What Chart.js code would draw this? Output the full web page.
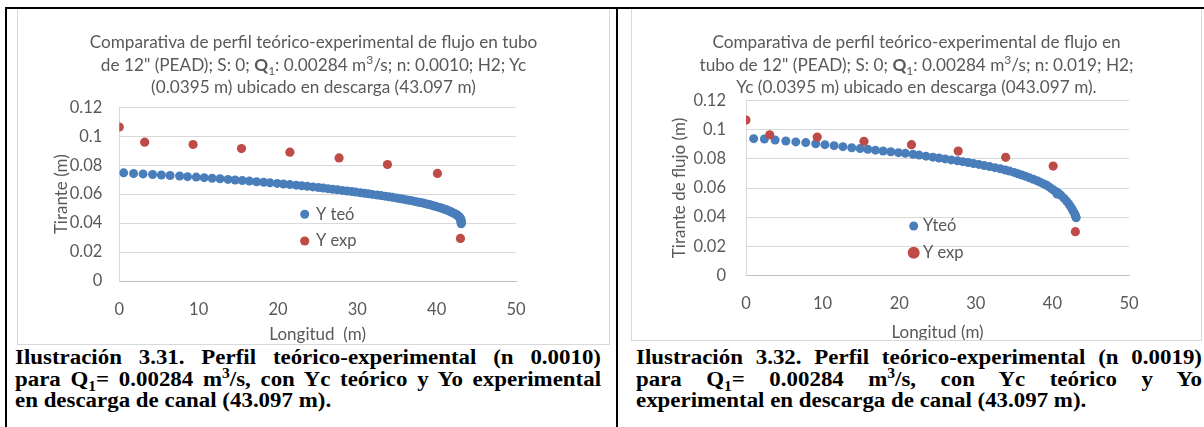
<!DOCTYPE html>
<html>
<head>
<meta charset="utf-8">
<script src="https://cdn.jsdelivr.net/npm/chart.js@4.4.1/dist/chart.umd.min.js"></script>
<style>
html,body{margin:0;padding:0;background:#fff;}
body{width:1204px;height:427px;overflow:hidden;position:relative;}
.rule{position:absolute;background:#000;}
.box{position:absolute;border:1px solid #d9d9d9;box-sizing:border-box;background:#fff;}
.box canvas{position:absolute;left:0;top:0;}
.ctitle{position:absolute;left:0;right:0;text-align:center;font-family:Lato,sans-serif;font-size:17.2px;line-height:22.5px;color:#595959;white-space:nowrap;z-index:2;}
.ctitle sub,.ctitle sup{font-size:0.7em;line-height:0;}
.cap{position:absolute;font-family:"Liberation Serif",serif;font-weight:bold;font-size:20px;line-height:21.5px;color:#000;transform:scaleX(1.145);transform-origin:0 0;}
.cap div{white-space:normal;}
.cap .j{text-align:justify;text-align-last:justify;}
.cap sub,.cap sup{font-size:0.68em;line-height:0;}
</style>
</head>
<body>
<div class="box" style="left:17px;top:8px;width:593px;height:337px;">
  <canvas id="c1" width="591" height="335" style="width:591px;height:335px"></canvas>
  <div class="ctitle" style="top:22px;">Comparativa de perfil teórico-experimental de flujo en tubo<br>de 12" (PEAD); S: 0; <b>Q</b><sub>1</sub>: 0.00284 m<sup>3</sup>/s; n: 0.0010; H2; Yc<br>(0.0395 m) ubicado en descarga (43.097 m)</div>
</div>
<div class="box" style="left:631px;top:8px;width:571px;height:333px;">
  <canvas id="c2" width="569" height="331" style="width:569px;height:331px"></canvas>
  <div class="ctitle" style="top:22px;">Comparativa de perfil teórico-experimental de flujo en<br>tubo de 12" (PEAD); S: 0; <b>Q</b><sub>1</sub>: 0.00284 m<sup>3</sup>/s; n: 0.019; H2;<br>Yc (0.0395 m) ubicado en descarga (043.097 m).</div>
</div>
<div class="cap" style="left:15px;top:347px;width:511.8px;">
  <div class="j">Ilustración 3.31. Perfil teórico-experimental (n 0.0010)</div>
  <div class="j">para Q<sub>1</sub>= 0.00284 m<sup>3</sup>/s, con Yc teórico y Yo experimental</div>
  <div>en descarga de canal (43.097 m).</div>
</div>
<div class="cap" style="left:636px;top:347px;width:494.3px;">
  <div class="j">Ilustración 3.32. Perfil teórico-experimental (n 0.0019)</div>
  <div class="j">para Q<sub>1</sub>= 0.00284 m<sup>3</sup>/s, con Yc teórico y Yo</div>
  <div>experimental en descarga de canal (43.097 m).</div>
</div>
<div class="rule" style="left:5px;top:7px;width:1199px;height:2px;"></div>
<div class="rule" style="left:5px;top:7px;width:2px;height:420px;"></div>
<div class="rule" style="left:616px;top:7px;width:2px;height:420px;"></div>

<script>
// ---------- data ----------
const xTickValues = [0, 10, 20, 30, 40, 50];
const xTickLabels = ['0', '10', '20', '30', '40', '50'];
const yTickValues = [0, 0.02, 0.04, 0.06, 0.08, 0.1, 0.12];
const yTickLabels = ['0', '0.02', '0.04', '0.06', '0.08', '0.1', '0.12'];

const seriesNames1 = ['Y teó', 'Y exp'];
const seriesNames2 = ['Yteó', 'Y exp'];

// Chart 1 (n 0.0010) theoretical profile
const teoX1 = [0.55, 1.8, 3.0, 4.2, 5.3, 6.4, 7.6, 8.6, 9.7, 10.7,
  11.7, 12.7, 13.7, 14.6, 15.5, 16.4, 17.3, 18.2, 19.0, 19.9,
  20.7, 21.5, 22.3, 23.0, 23.7, 24.4, 25.1, 25.7, 26.3, 26.9,
  27.5, 28.1, 28.7, 29.3, 29.8, 30.4, 30.9, 31.4, 31.9, 32.5,
  33.0, 33.5, 34.0, 34.45, 34.9, 35.3, 35.7, 36.1, 36.5, 36.9,
  37.25, 37.6, 37.95, 38.3, 38.6, 38.9, 39.2, 39.45, 39.7, 39.95,
  40.2, 40.45, 40.7, 40.9, 41.1, 41.3, 41.5, 41.65, 41.8, 41.95,
  42.1, 42.25, 42.4, 42.5, 42.6, 42.7, 42.78, 42.85, 42.91, 42.96,
  43.0, 43.03, 43.05, 43.07, 43.08, 43.09, 43.095, 43.097, 43.097];
const teoY1 = [0.0747, 0.0743, 0.0740, 0.0736, 0.0732, 0.0729, 0.0725, 0.0721, 0.0718, 0.0714,
  0.0710, 0.0706, 0.0702, 0.0698, 0.0694, 0.0690, 0.0686, 0.0682, 0.0678, 0.0674,
  0.0670, 0.0666, 0.0662, 0.0658, 0.0654, 0.0650, 0.0646, 0.0642, 0.0638, 0.0634,
  0.0630, 0.0626, 0.0622, 0.0618, 0.0614, 0.0610, 0.0606, 0.0602, 0.0598, 0.0594,
  0.0590, 0.0586, 0.0582, 0.0578, 0.0574, 0.0570, 0.0566, 0.0562, 0.0558, 0.0554,
  0.0550, 0.0546, 0.0542, 0.0538, 0.0534, 0.0530, 0.0526, 0.0522, 0.0518, 0.0514,
  0.0510, 0.0506, 0.0502, 0.0498, 0.0494, 0.0490, 0.0486, 0.0482, 0.0478, 0.0474,
  0.0470, 0.0466, 0.0462, 0.0458, 0.0454, 0.0450, 0.0446, 0.0442, 0.0438, 0.0434,
  0.0430, 0.0426, 0.0422, 0.0418, 0.0414, 0.0410, 0.0405, 0.0400, 0.0395];
const expX1 = [0, 3.2, 9.3, 15.4, 21.5, 27.7, 33.8, 40.1, 43.0];
const expY1 = [0.1064, 0.0959, 0.0943, 0.0915, 0.0890, 0.0850, 0.0805, 0.0743, 0.0294];

// Chart 2 (n 0.019) theoretical profile
const teoX2 = [1.0, 2.4, 3.8, 5.2, 6.5, 7.8, 9.1, 10.3, 11.5, 12.65,
  13.8, 14.9, 15.9, 16.9, 17.9, 18.9, 19.9, 20.8, 21.8, 22.6,
  23.5, 24.4, 25.2, 26.0, 26.8, 27.6, 28.3, 29.0, 29.7, 30.4,
  31.1, 31.8, 32.5, 33.2, 33.85, 34.4, 35.0, 35.5, 36.0, 36.5,
  37.0, 37.5, 38.0, 38.4, 38.8, 39.2, 39.55, 39.9, 40.2, 40.5,
  40.6, 40.8, 41.1, 41.5, 41.85, 42.15, 42.4, 42.6, 42.78, 42.92,
  43.02, 43.08, 43.097];
const teoY2 = [0.0939, 0.0937, 0.0930, 0.0923, 0.0917, 0.0912, 0.0904, 0.0898, 0.0891, 0.0884,
  0.0877, 0.0871, 0.0866, 0.0860, 0.0854, 0.0849, 0.0843, 0.0838, 0.0832, 0.0826,
  0.0819, 0.0812, 0.0806, 0.0800, 0.0793, 0.0787, 0.0781, 0.0775, 0.0768, 0.0762,
  0.0755, 0.0747, 0.0740, 0.0732, 0.0724, 0.0716, 0.0707, 0.0698, 0.0689, 0.0680,
  0.0670, 0.0660, 0.0650, 0.0640, 0.0630, 0.0621, 0.0608, 0.0595, 0.0584, 0.0575,
  0.0559, 0.0564, 0.0550, 0.0530, 0.0510, 0.0490, 0.0470, 0.0452, 0.0436, 0.0422,
  0.0410, 0.0400, 0.0395];
const expX2 = [0, 3.1, 9.3, 15.4, 21.6, 27.7, 33.9, 40.1, 43.0];
const expY2 = [0.1067, 0.0966, 0.0950, 0.0921, 0.0898, 0.0854, 0.0811, 0.0751, 0.0300];

// ---------- rendering ----------
const BLUE = '#4A7EBB';
const RED = '#BE4B48';
const GREY = '#595959';

function pts(xs, ys) { return xs.map((x, i) => ({ x: x, y: ys[i] })); }

function legendPlugin(cfg) {
  return {
    id: 'pointLegend',
    afterDraw(chart) {
      const ctx = chart.ctx;
      ctx.save();
      ctx.font = cfg.font;
      ctx.textBaseline = 'middle';
      ctx.textAlign = 'left';
      chart.data.datasets.forEach((ds, i) => {
        const y = cfg.y + i * cfg.gap;
        ctx.beginPath();
        ctx.arc(cfg.x, y, cfg.radii[i], 0, Math.PI * 2);
        ctx.fillStyle = ds.backgroundColor;
        ctx.fill();
        ctx.fillStyle = cfg.color;
        ctx.fillText(ds.label, cfg.x + cfg.textOffset, y);
      });
      ctx.restore();
    }
  };
}

function makeChart(id, s) {
  return new Chart(document.getElementById(id), {
    type: 'scatter',
    data: {
      datasets: [
        { label: s.names[0], data: pts(s.teoX, s.teoY), backgroundColor: BLUE, borderColor: BLUE,
          pointRadius: 4.5, pointBorderWidth: 0, pointHoverRadius: 4.5, order: 2 },
        { label: s.names[1], data: pts(s.expX, s.expY), backgroundColor: RED, borderColor: RED,
          pointRadius: 4.6, pointBorderWidth: 0, pointHoverRadius: 4.6, order: 1 }
      ]
    },
    options: {
      responsive: false,
      animation: false,
      events: [],
      layout: { padding: s.pad },
      plugins: { legend: { display: false }, tooltip: { enabled: false }, title: { display: false } },
      scales: {
        x: {
          type: 'linear', min: 0, max: 50,
          afterBuildTicks: sc => { sc.ticks = xTickValues.map(v => ({ value: v })); },
          ticks: { padding: s.xTickPad, color: GREY, font: { family: 'Lato', size: 16.5 },
                   callback: (v, i) => xTickLabels[i] },
          grid: { display: false, drawTicks: false },
          border: { display: true, color: '#bfbfbf', width: 1 },
          title: { display: true, text: s.xTitle, color: GREY, font: { family: 'Lato', size: 17 },
                   padding: { top: 0, bottom: s.xTitlePad } },
          afterFit: sc => { sc.height = s.xH; }
        },
        y: {
          type: 'linear', min: 0, max: 0.12,
          afterBuildTicks: sc => { sc.ticks = yTickValues.map(v => ({ value: v })); },
          ticks: { padding: s.yTickPad, color: GREY, font: { family: 'Lato', size: 16.5 },
                   callback: (v, i) => yTickLabels[i] },
          grid: { color: '#d9d9d9', lineWidth: 1, drawTicks: false },
          border: { display: true, color: '#d9d9d9', width: 1 },
          title: { display: true, text: s.yTitle, color: GREY, font: { family: 'Lato', size: 17 },
                   padding: { top: 0, bottom: 0 } },
          afterFit: sc => { sc.width = s.yW; }
        }
      }
    },
    plugins: [legendPlugin(s.legend)]
  });
}

makeChart('c1', {
  names: seriesNames1, teoX: teoX1, teoY: teoY1, expX: expX1, expY: expY1,
  pad: { left: 33, right: 93, top: 98.3, bottom: 0 },
  yW: 68.3, xH: 63, yTickPad: 17, xTickPad: 19, xTitlePad: -0.5,
  xTitle: 'Longitud  (m)', yTitle: 'Tirante (m)',
  legend: { x: 286.7, y: 205.3, gap: 26.7, textOffset: 11.3, radii: [4.5, 4.6],
            font: '16.5px Lato', color: GREY }
});

makeChart('c2', {
  names: seriesNames2, teoX: teoX2, teoY: teoY2, expX: expX2, expY: expY2,
  pad: { left: 37, right: 72, top: 91.7, bottom: 0 },
  yW: 77, xH: 64.7, yTickPad: 20, xTickPad: 18, xTitlePad: -3,
  xTitle: 'Longitud (m)', yTitle: 'Tirante de flujo (m)',
  legend: { x: 281.7, y: 217, gap: 26.7, textOffset: 9.3, radii: [4.5, 6],
            font: '16.5px Lato', color: GREY }
});
</script>
</body>
</html>
